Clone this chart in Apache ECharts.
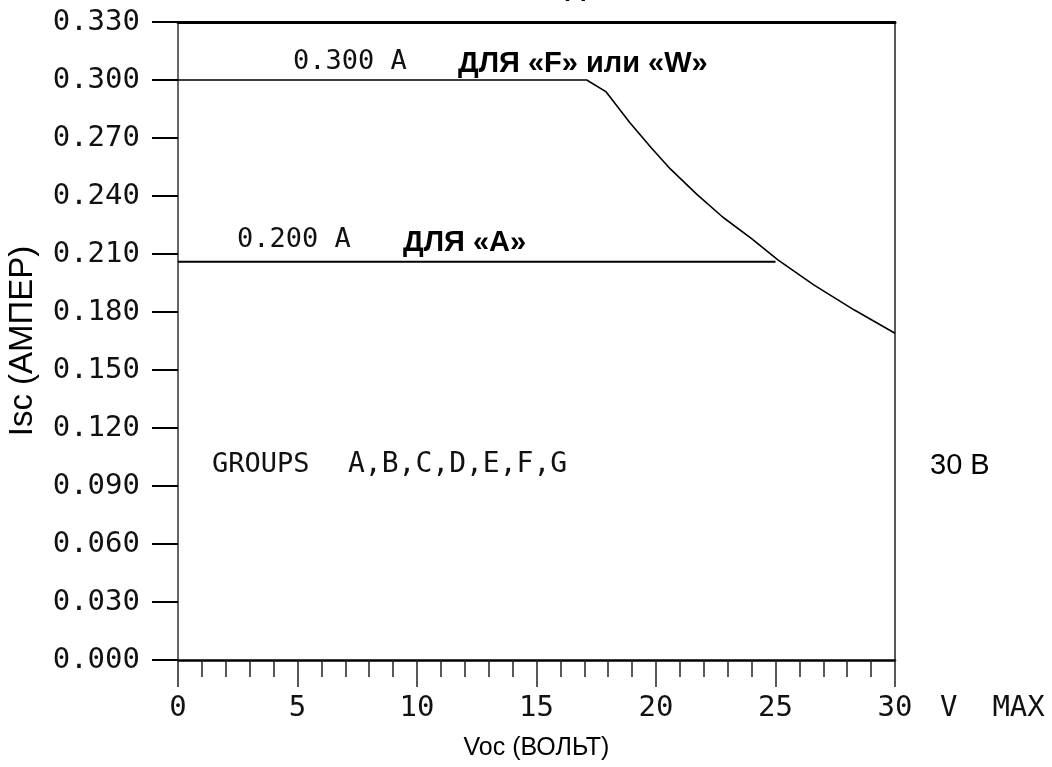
<!DOCTYPE html>
<html>
<head>
<meta charset="utf-8">
<style>
  html, body { margin: 0; padding: 0; background: #fff; }
  #chart { width: 1052px; height: 767px; }
</style>
<script src="https://cdn.jsdelivr.net/npm/echarts@6/dist/echarts.min.js"></script>
</head>
<body>
<div id="chart"></div>
<script>
// Voc, volts / Isc, amps
const upperCurve = [
  [0, 0.300], [17.1, 0.300], [17.9, 0.294], [18.9, 0.278], [19.8, 0.265],
  [20.6, 0.254], [21.7, 0.241], [22.8, 0.229], [24.0, 0.218], [25.1, 0.207],
  [26.6, 0.194], [28.3, 0.181], [30.0, 0.169]
]
const lowerLine = [[0, 0.206], [25, 0.206]]
const xTicks = { min: 0, max: 30, step: 5 }
const yTicks = { min: 0, max: 0.33, step: 0.03 }

const mono = 'DejaVu Sans Mono'
const sans = 'Liberation Sans'

function label(x, y, text, opts) {
  return {
    type: 'text', x: x, y: y,
    style: Object.assign({
      text: text, fontFamily: mono, fontSize: 28, fill: '#111', verticalAlign: 'middle'
    }, opts || {})
  }
}

const chart = echarts.init(document.getElementById('chart'))

chart.setOption({
  animation: false,
  backgroundColor: '#fff',
  grid: { left: 178, right: 157, top: 22, bottom: 107, outerBoundsMode: 'none' },
  xAxis: [{
    type: 'value',
    min: xTicks.min, max: xTicks.max, interval: xTicks.step,
    name: 'Voc (ВОЛЬТ)',
    nameLocation: 'middle',
    nameGap: 76,
    nameTextStyle: { fontFamily: sans, fontSize: 25, color: '#000' },
    axisLine: { show: true, lineStyle: { color: '#000', width: 2.5 } },
    axisTick: { show: true, length: 27, lineStyle: { color: '#222', width: 1.5 } },
    minorTick: { show: true, splitNumber: 5, length: 17, lineStyle: { color: '#222', width: 1.5 } },
    axisLabel: {
      margin: 34, fontFamily: mono, fontSize: 29, color: '#111',
      formatter: v => String(v)
    },
    splitLine: { show: false }
  }, {
    type: 'value', position: 'top',
    min: xTicks.min, max: xTicks.max,
    axisLine: { show: true, onZero: false, lineStyle: { color: '#000', width: 3 } },
    axisTick: { show: false }, axisLabel: { show: false }, splitLine: { show: false }
  }],
  yAxis: [{
    type: 'value',
    min: yTicks.min, max: yTicks.max, interval: yTicks.step,
    name: 'Isc (АМПЕР)',
    nameLocation: 'middle',
    nameGap: 139,
    nameRotate: 90,
    nameTextStyle: { fontFamily: sans, fontSize: 33, color: '#000' },
    axisLine: { show: true, lineStyle: { color: '#333', width: 1.5 } },
    axisTick: { show: true, length: 26, lineStyle: { color: '#000', width: 2 } },
    axisLabel: {
      margin: 38, fontFamily: mono, fontSize: 29, color: '#111',
      formatter: v => v.toFixed(3)
    },
    splitLine: { show: false }
  }, {
    type: 'value', position: 'right',
    min: yTicks.min, max: yTicks.max,
    axisLine: { show: true, onZero: false, lineStyle: { color: '#222', width: 1.5 } },
    axisTick: { show: false }, axisLabel: { show: false }, splitLine: { show: false }
  }],
  series: [{
    type: 'line',
    data: upperCurve,
    symbol: 'none',
    lineStyle: { color: '#000', width: 1.6 }
  }, {
    type: 'line',
    data: lowerLine,
    symbol: 'none',
    lineStyle: { color: '#000', width: 2 }
  }],
  graphic: [
    { type: 'text', left: 'center', top: -27,
      style: { text: 'Pmax = 5,0 Вт ДЛЯ «F»', fontFamily: sans, fontSize: 28, fontWeight: 'bold', fill: '#000' } },
    label(293, 62, '0.300 A', { fontSize: 27 }),
    label(458, 64, 'ДЛЯ «F» или «W»', { fontFamily: sans, fontSize: 29, fontWeight: 'bold', fill: '#000' }),
    label(237, 240, '0.200 A', { fontSize: 27 }),
    label(403, 243, 'ДЛЯ «A»', { fontFamily: sans, fontSize: 29, fontWeight: 'bold', fill: '#000' }),
    label(212, 465, 'GROUPS', { fontSize: 27 }),
    label(348, 465, 'A,B,C,D,E,F,G', { fontSize: 28 }),
    label(930, 466, '30 В', { fontFamily: sans, fontSize: 29, fill: '#000' }),
    label(940, 708, 'V  MAX', { fontSize: 29 })
  ]
})
</script>
</body>
</html>
